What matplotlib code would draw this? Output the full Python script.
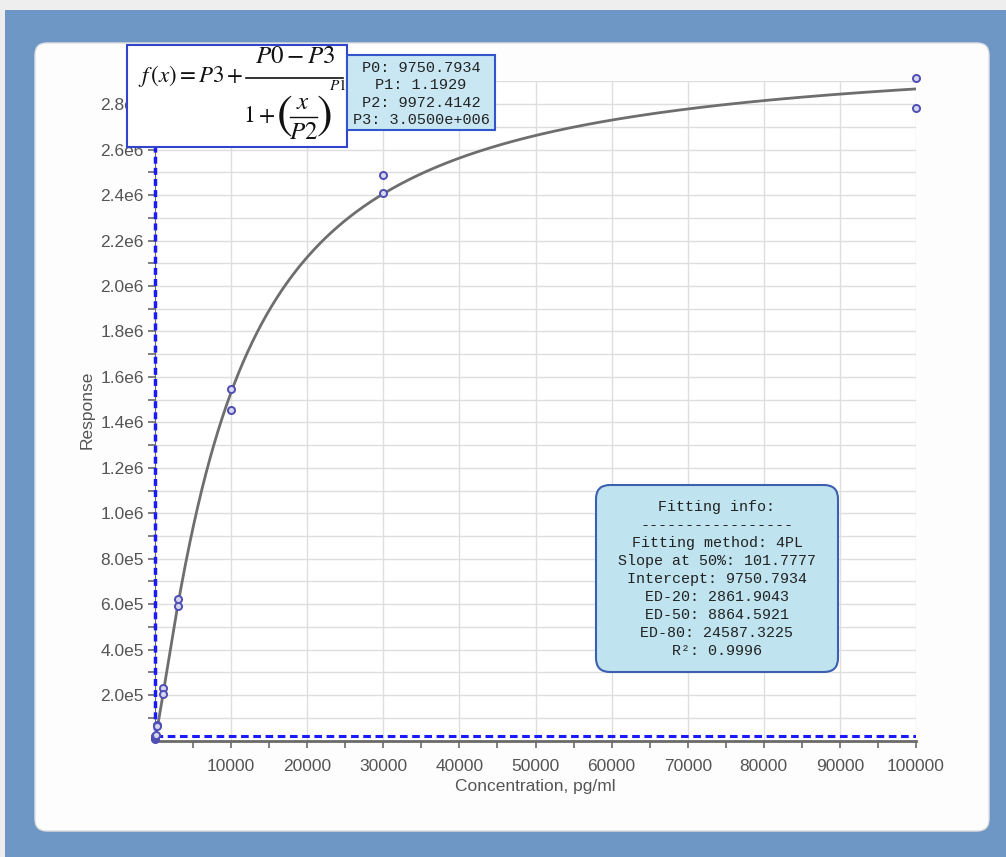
import matplotlib.pyplot as plt
import numpy as np
from matplotlib.patches import FancyBboxPatch, Rectangle
from matplotlib.lines import Line2D
from matplotlib.transforms import IdentityTransform

plt.rcParams['font.family'] = ['Liberation Sans', 'DejaVu Sans']
plt.rcParams['mathtext.fontset'] = 'stix'

# fitted 4PL parameters (shown in the chart)
P0 = 9750.7934
P1 = 1.1929
P2 = 9972.4142
P3 = 3.05e6

conc = [0, 0, 10, 30, 100, 300, 300, 1000, 1000, 3000, 3000,
        10000, 10000, 30000, 30000, 100000, 100000]
resp = [8e3, 1.2e4, 1.5e4, 1.8e4, 2.6e4, 6.9e4, 6.6e4, 2.31e5, 2.05e5, 6.23e5, 5.92e5,
        1.547e6, 1.454e6, 2.488e6, 2.409e6, 2.915e6, 2.783e6]
blank_level = 2.1e4

x_ticks = [10000, 20000, 30000, 40000, 50000, 60000, 70000, 80000, 90000, 100000]
y_ticks = [2e5, 4e5, 6e5, 8e5, 1e6, 1.2e6, 1.4e6, 1.6e6, 1.8e6, 2.0e6, 2.2e6, 2.4e6, 2.6e6, 2.8e6]
y_labels = ['2.0e5', '4.0e5', '6.0e5', '8.0e5', '1.0e6', '1.2e6', '1.4e6', '1.6e6',
            '1.8e6', '2.0e6', '2.2e6', '2.4e6', '2.6e6', '2.8e6']

param_lines = ['P0: 9750.7934', 'P1: 1.1929', 'P2: 9972.4142', 'P3: 3.0500e+006']
info_lines = ['Fitting info:', '-----------------', 'Fitting method: 4PL',
              'Slope at 50%: 101.7777', 'Intercept: 9750.7934', 'ED-20: 2861.9043',
              'ED-50: 8864.5921', 'ED-80: 24587.3225', 'R²: 0.9996']

W, H = 1006, 857
fig = plt.figure(figsize=(W / 100, H / 100), dpi=100)
fig.patch.set_facecolor('#eeeeee')
px = IdentityTransform()


def Y(y):
    # image row -> display y
    return H - y


# blue frame and white panel
fig.add_artist(Rectangle((5, 0), W - 5, H - 10, transform=px, facecolor='#6f97c5',
                         edgecolor='none', zorder=-10))
fig.add_artist(FancyBboxPatch((35, Y(831)), 954, 788, boxstyle='round,pad=0,rounding_size=12',
                              transform=px, facecolor='#fdfdfd', edgecolor='#e0e0e0',
                              lw=1, zorder=-9))

ax = fig.add_axes([155 / W, (H - 740.5) / H, (916 - 155) / W, (740.5 - 81.5) / H])
ax.set_facecolor('white')
ax.set_xlim(0, 100000)
ax.set_ylim(0, 2.9e6)

xs = np.linspace(0, 100000, 3000)
ys = P3 + (P0 - P3) / (1 + (xs / P2) ** P1)
ax.plot(xs, ys, color='#6e6e6e', lw=2, zorder=3)
ax.scatter(conc, resp, s=26, facecolors='#d6d6ee', edgecolors='#4f4fb5', linewidths=1.4,
           zorder=5, clip_on=False)

ax.axvline(0, color='#1a1aff', lw=2.5, ls=(0, (2, 1.2)), zorder=4, clip_on=False)
ax.axhline(blank_level, color='#1a1aff', lw=2.2, ls=(0, (2.5, 1.5)), zorder=4)

ax.set_xticks(x_ticks)
ax.set_xticks(np.arange(5000, 100000, 10000), minor=True)
ax.set_yticks(y_ticks)
ax.set_yticklabels(y_labels)
ax.set_yticks(np.arange(1e5, 2.95e6, 2e5), minor=True)
ax.grid(axis='y', which='both', color='#dedede', lw=1)
ax.grid(axis='x', which='major', color='#dedede', lw=1)
ax.set_axisbelow(True)

ax.tick_params(which='both', direction='out', length=5, width=1.2, color='#6a6a6a',
               labelcolor='#555555', labelsize=12.5)
ax.tick_params(axis='x', pad=8)
ax.tick_params(axis='y', pad=3)
for s in ['top', 'right']:
    ax.spines[s].set_visible(False)
ax.spines['bottom'].set_color('#6a6a6a')
ax.spines['bottom'].set_linewidth(2)
ax.spines['left'].set_color('#6a6a6a')

fig.text(535, Y(787), 'Concentration, pg/ml', transform=px, ha='center', va='center',
         fontsize=12.5, color='#555555')
fig.text(87, Y(410), 'Response', transform=px, ha='center', va='center', rotation=90,
         fontsize=12.5, color='#555555')

# formula box, built from pieces
fig.add_artist(Rectangle((127, Y(147)), 220, 102, transform=px, facecolor='white',
                         edgecolor='#3344cc', lw=1.5, zorder=6))
fk = dict(transform=px, va='center', ha='center', color='#111111', zorder=7)
fig.text(138, Y(76), r'$f\,(x) = P3 +$', fontsize=16.5, **{**fk, 'ha': 'left'})
fig.text(295, Y(56), r'$P0 - P3$', fontsize=18, **fk)
fig.add_artist(Line2D([246, 343], [Y(78), Y(78)], transform=px, color='#111111',
                      lw=1.2, zorder=7))
fig.text(259, Y(116), r'$1+$', fontsize=17, **fk)
fig.text(284, Y(116), r'$($', fontsize=34, **fk)
fig.text(303, Y(102), r'$x$', fontsize=18, **fk)
fig.add_artist(Line2D([290, 317], [Y(117), Y(117)], transform=px, color='#111111',
                      lw=1.0, zorder=7))
fig.text(304, Y(132), r'$P2$', fontsize=18, **fk)
fig.text(324, Y(116), r'$)$', fontsize=34, **fk)
fig.text(338, Y(85), r'$P1$', fontsize=11, **fk)

# parameter box
fig.add_artist(Rectangle((347, Y(130)), 148, 75, transform=px, facecolor='#c8e7f3',
                         edgecolor='#3355cc', lw=1.5, zorder=6))
fig.text(421, Y(94), '\n'.join(param_lines), transform=px, ha='center', va='center',
         family='Liberation Mono', fontsize=11, linespacing=1.3, color='#222222', zorder=7)

# fitting info box
fig.add_artist(FancyBboxPatch((596, Y(672)), 242, 187, boxstyle='round,pad=0,rounding_size=14',
                              transform=px, facecolor='#bfe3ef', edgecolor='#3d5fb0',
                              lw=1.5, zorder=6))
fig.text(717, Y(579), '\n'.join(info_lines), transform=px, ha='center', va='center',
         family='Liberation Mono', fontsize=10.8, linespacing=1.37, color='#222222', zorder=7)

fig.savefig('out.png', dpi=100)
